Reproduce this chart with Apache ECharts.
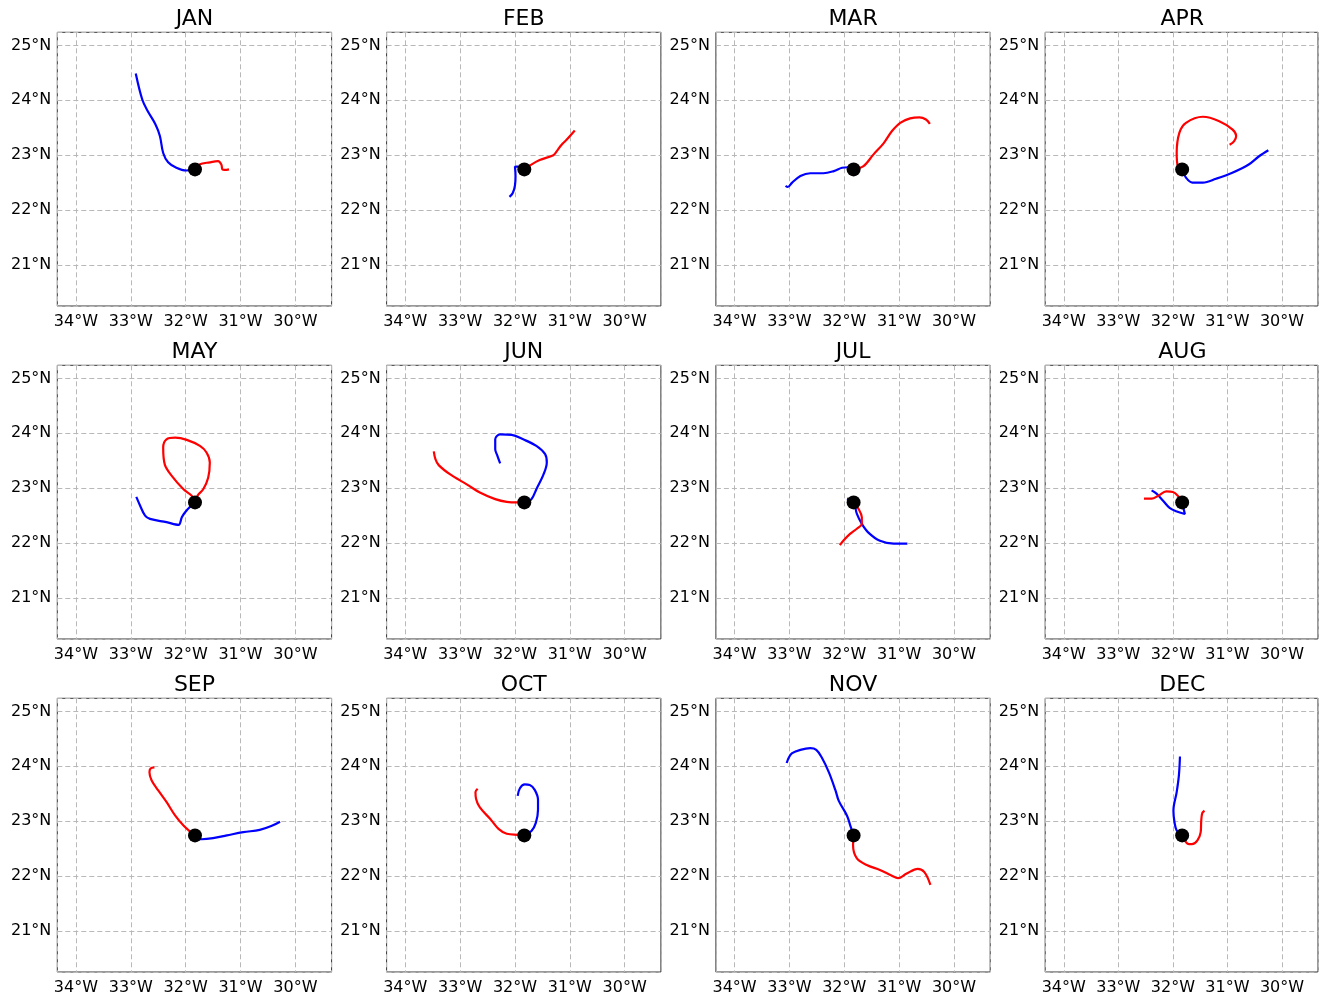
<!DOCTYPE html>
<html>
<head>
<meta charset="utf-8">
<script src="https://cdn.jsdelivr.net/npm/echarts@6/dist/echarts.min.js"></script>
<style>
html,body{margin:0;padding:0;background:#fff;}
#chart{width:1321px;height:996px;}
</style>
</head>
<body>
<div id="chart"></div>
<script>
// ---- data ----
const months = ['JAN','FEB','MAR','APR','MAY','JUN','JUL','AUG','SEP','OCT','NOV','DEC'];
const center = [-31.83, 22.74];

const JAN_BLUE = [[-31.83,22.74],[-31.99,22.72],[-32.17,22.77],[-32.32,22.87],[-32.41,23.04],[-32.47,23.35],[-32.55,23.56],[-32.69,23.80],[-32.79,24.01],[-32.91,24.49]];
const JAN_RED  = [[-31.83,22.74],[-31.75,22.83],[-31.56,22.87],[-31.41,22.89],[-31.35,22.83],[-31.33,22.74],[-31.29,22.73],[-31.21,22.74]];
const FEB_BLUE = [[-31.83,22.74],[-31.95,22.79],[-32.0,22.79],[-31.99,22.62],[-32.0,22.45],[-32.04,22.31],[-32.10,22.24]];
const FEB_RED  = [[-31.83,22.74],[-31.73,22.81],[-31.55,22.91],[-31.30,23.0],[-31.24,23.07],[-31.15,23.19],[-31.06,23.28],[-30.91,23.45]];
const MAR_BLUE = [[-31.83,22.74],[-31.92,22.78],[-32.04,22.77],[-32.19,22.71],[-32.38,22.67],[-32.62,22.67],[-32.80,22.62],[-32.95,22.50],[-33.03,22.42],[-33.07,22.44]];
const MAR_RED  = [[-31.83,22.74],[-31.65,22.80],[-31.47,23.01],[-31.28,23.22],[-31.13,23.44],[-30.98,23.59],[-30.80,23.67],[-30.63,23.69],[-30.51,23.65],[-30.44,23.57]];
const APR_BLUE = [[-31.83,22.74],[-31.76,22.59],[-31.64,22.50],[-31.45,22.50],[-31.21,22.57],[-30.91,22.68],[-30.61,22.83],[-30.42,22.98],[-30.25,23.09]];
const APR_RED  = [[-31.83,22.74],[-31.91,22.80],[-31.93,23.04],[-31.88,23.41],[-31.76,23.59],[-31.45,23.70],[-31.15,23.62],[-30.91,23.47],[-30.84,23.35],[-30.88,23.25],[-30.96,23.19]];
const MAY_BLUE = [[-31.83,22.74],[-31.92,22.66],[-32.01,22.56],[-32.07,22.47],[-32.13,22.33],[-32.35,22.38],[-32.65,22.44],[-32.74,22.50],[-32.83,22.68],[-32.90,22.84]];
const MAY_RED  = [[-31.83,22.74],[-31.78,22.87],[-31.68,22.98],[-31.59,23.19],[-31.56,23.47],[-31.62,23.65],[-31.74,23.77],[-31.98,23.88],[-32.19,23.92],[-32.35,23.89],[-32.41,23.74],[-32.38,23.43],[-32.25,23.22],[-32.04,22.98],[-31.89,22.86],[-31.85,22.77]];
const JUN_BLUE = [[-31.83,22.74],[-31.70,22.80],[-31.61,22.98],[-31.48,23.25],[-31.42,23.47],[-31.45,23.62],[-31.61,23.77],[-31.85,23.89],[-32.06,23.97],[-32.27,23.98],[-32.36,23.89],[-32.36,23.71],[-32.32,23.59],[-32.27,23.45]];
const JUN_RED  = [[-31.83,22.74],[-31.94,22.74],[-32.15,22.75],[-32.36,22.80],[-32.64,22.92],[-32.88,23.07],[-33.18,23.25],[-33.39,23.42],[-33.45,23.53],[-33.48,23.67]];
const JUL_BLUE = [[-31.95,22.81],[-31.83,22.74],[-31.77,22.53],[-31.68,22.35],[-31.56,22.19],[-31.35,22.04],[-31.10,21.99],[-30.85,21.99]];
const JUL_RED  = [[-31.83,22.74],[-31.74,22.62],[-31.68,22.47],[-31.68,22.35],[-31.77,22.26],[-31.89,22.17],[-32.01,22.05],[-32.08,21.96]];
const AUG_BLUE = [[-31.83,22.74],[-31.81,22.65],[-31.78,22.53],[-31.94,22.58],[-32.06,22.64],[-32.18,22.77],[-32.30,22.90],[-32.39,22.96]];
const AUG_RED  = [[-31.83,22.74],[-31.91,22.86],[-32.0,22.93],[-32.12,22.94],[-32.27,22.86],[-32.39,22.81],[-32.53,22.81]];
const SEP_BLUE = [[-31.83,22.74],[-31.71,22.67],[-31.50,22.69],[-31.25,22.74],[-30.95,22.80],[-30.65,22.84],[-30.44,22.91],[-30.28,22.99]];
const SEP_RED  = [[-31.83,22.74],[-31.92,22.81],[-32.04,22.92],[-32.19,23.10],[-32.35,23.35],[-32.50,23.56],[-32.62,23.74],[-32.66,23.89],[-32.64,23.96],[-32.57,23.98]];
const OCT_BLUE = [[-31.83,22.74],[-31.70,22.82],[-31.62,22.97],[-31.58,23.21],[-31.58,23.39],[-31.64,23.57],[-31.73,23.66],[-31.82,23.67],[-31.91,23.60],[-31.95,23.46]];
const OCT_RED  = [[-31.83,22.74],[-31.94,22.75],[-32.15,22.77],[-32.30,22.86],[-32.45,23.04],[-32.64,23.25],[-32.71,23.41],[-32.72,23.53],[-32.68,23.59]];
const NOV_BLUE = [[-31.83,22.74],[-31.89,22.92],[-31.95,23.10],[-32.10,23.37],[-32.16,23.56],[-32.28,23.89],[-32.41,24.16],[-32.51,24.30],[-32.62,24.33],[-32.80,24.30],[-32.95,24.24],[-33.01,24.16],[-33.05,24.06]];
const NOV_RED  = [[-31.83,22.74],[-31.84,22.56],[-31.77,22.32],[-31.59,22.20],[-31.35,22.11],[-31.14,22.01],[-31.02,21.96],[-30.87,22.04],[-30.66,22.13],[-30.54,22.07],[-30.43,21.84]];
const DEC_BLUE = [[-31.83,22.74],[-31.93,22.83],[-31.97,22.98],[-31.99,23.19],[-31.93,23.53],[-31.89,23.83],[-31.87,24.18]];
const DEC_RED  = [[-31.83,22.74],[-31.73,22.59],[-31.65,22.58],[-31.55,22.65],[-31.49,22.80],[-31.48,23.01],[-31.46,23.15],[-31.42,23.19]];

const blueTracks = [JAN_BLUE,FEB_BLUE,MAR_BLUE,APR_BLUE,MAY_BLUE,JUN_BLUE,JUL_BLUE,AUG_BLUE,SEP_BLUE,OCT_BLUE,NOV_BLUE,DEC_BLUE];
const redTracks  = [JAN_RED,FEB_RED,MAR_RED,APR_RED,MAY_RED,JUN_RED,JUL_RED,AUG_RED,SEP_RED,OCT_RED,NOV_RED,DEC_RED];

const lonRange = [-34.34, -29.34];
const latRange = [20.25, 25.24];

// ---- layout ----
const FONT = 'DejaVu Sans';
const grids = [], xAxes = [], yAxes = [], titles = [], series = [];
const isInt = v => Math.abs(v - Math.round(v)) < 1e-6;
for (let i = 0; i < 12; i++) {
  const r = Math.floor(i / 4), c = i % 4;
  const left = 57.3 + 329.3 * c, top = 32.3 + 333 * r, w = 274.3, h = 273.7;
  grids.push({left: left, top: top, width: w, height: h, show: true, borderColor: '#333', borderWidth: 1, backgroundColor: '#fff', containLabel: false});
  xAxes.push({
    gridIndex: i, type: 'value', min: lonRange[0], max: lonRange[1], splitNumber: 5,
    axisLine: {show: false}, axisTick: {show: false},
    axisLabel: {formatter: v => isInt(v) ? Math.round(-v) + '°W' : '', fontSize: 16, color: '#000', fontFamily: FONT, margin: 8},
    splitLine: {show: true, lineStyle: {color: '#b8b8b8', type: [5, 3], width: 1}}
  });
  yAxes.push({
    gridIndex: i, type: 'value', min: latRange[0], max: latRange[1], splitNumber: 5,
    axisLine: {show: false}, axisTick: {show: false},
    axisLabel: {formatter: v => isInt(v) ? Math.round(v) + '°N' : '', fontSize: 16, color: '#000', fontFamily: FONT, margin: 6},
    splitLine: {show: true, lineStyle: {color: '#b8b8b8', type: [5, 3], width: 1}}
  });
  titles.push({text: months[i], left: left + w / 2, top: top - 24, textAlign: 'center', padding: 0,
    textStyle: {fontSize: 22, fontWeight: 'normal', color: '#000', fontFamily: FONT}});
  series.push({type: 'line', xAxisIndex: i, yAxisIndex: i, data: blueTracks[i], showSymbol: false, smooth: 0.35,
    lineStyle: {color: '#0000ff', width: 2.2}, z: 3});
  series.push({type: 'line', xAxisIndex: i, yAxisIndex: i, data: redTracks[i], showSymbol: false, smooth: 0.35,
    lineStyle: {color: '#ff0000', width: 2.2}, z: 3});
  series.push({type: 'scatter', xAxisIndex: i, yAxisIndex: i, data: [center], symbolSize: 14,
    itemStyle: {color: '#000', opacity: 1}, z: 5});
}

const chart = echarts.init(document.getElementById('chart'), null, {renderer: 'canvas'});
chart.setOption({
  animation: false,
  backgroundColor: '#fff',
  title: titles,
  grid: grids,
  xAxis: xAxes,
  yAxis: yAxes,
  series: series
});
</script>
</body>
</html>
